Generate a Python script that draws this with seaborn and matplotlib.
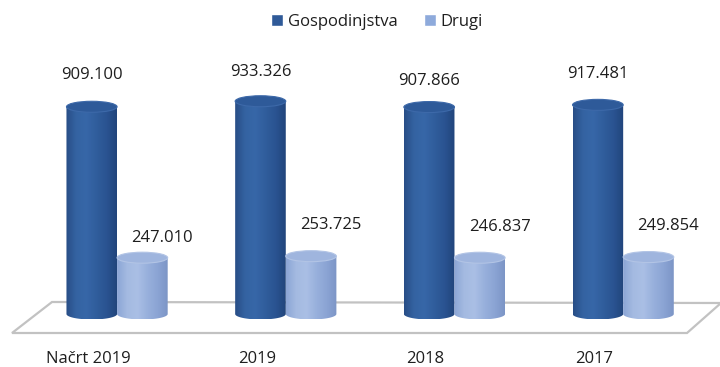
import numpy as np
import pandas as pd
import matplotlib
matplotlib.use("Agg")
import matplotlib.pyplot as plt
import matplotlib.transforms as mtransforms
from matplotlib.patches import Ellipse, Polygon
from matplotlib.colors import LinearSegmentedColormap
import seaborn as sns

# ---- data -------------------------------------------------------------
categories = ["Načrt 2019", "2019", "2018", "2017"]
series_names = ["Gospodinjstva", "Drugi"]
gospodinjstva = [909100, 933326, 907866, 917481]
drugi = [247010, 253725, 246837, 249854]

# ---- style ------------------------------------------------------------
sns.set_theme(style="white")
plt.rcParams["font.family"] = ["Open Sans", "DejaVu Sans"]
TEXT = "#1e1e1e"
DARK = "#2f5a98"
LIGHT = "#8eaadb"
FS = 12

body_maps = {
    DARK: LinearSegmentedColormap.from_list(
        "dark_body", ["#284d86", "#3463a2", "#3767a8", "#305d9c", "#2a5391", "#21457b"]),
    LIGHT: LinearSegmentedColormap.from_list(
        "light_body", ["#8ba5d5", "#a4bae1", "#aabfe5", "#98b0dc", "#8ba4d4", "#7c95c6"]),
}
cap_colors = {DARK: ("#2e5a99", "#3d69a9"), LIGHT: ("#9fb5de", "#b2c4e5")}

# label offsets in pixels above each cylinder top (dx, dy)
label_offsets = {
    DARK: [(0, 32), (0, 29), (0, 26), (0, 31)],
    LIGHT: [(20, 20), (20, 31), (20, 31), (20, 31)],
}

df = pd.DataFrame({
    "Kategorija": categories * 2,
    "Serija": [series_names[0]] * len(categories) + [series_names[1]] * len(categories),
    "Vrednost": gospodinjstva + drugi,
})

W, H, DPI = 720, 367, 100
fig = plt.figure(figsize=(W / DPI, H / DPI), dpi=DPI)
ax = fig.add_axes([0, 1 - 345 / H, 1, (345 - 40) / H])

sns.barplot(data=df, x="Kategorija", y="Vrednost", hue="Serija",
            palette=[DARK, LIGHT], saturation=1, width=0.6, gap=0,
            ax=ax, legend=True)

XLIM = (-0.694, 3.574)
YLIM = (-136000, 1202000)
ax.set_xlim(*XLIM)
ax.set_ylim(*YLIM)

# pixel -> data conversion for vertical sizes
def px_to_data_y(px):
    p0 = ax.transData.inverted().transform((0, 0))
    p1 = ax.transData.inverted().transform((0, px))
    return p1[1] - p0[1]

ell_h = px_to_data_y(11)

# ---- floor (drawn in figure pixels, y measured from the top) -----------
def fig_px(x, y):
    return (x / W, 1 - y / H)

floor_pts = [fig_px(12, 333), fig_px(687, 333), fig_px(721, 303), fig_px(52, 302)]
floor = Polygon(floor_pts, closed=True, transform=fig.transFigure,
                facecolor="white", edgecolor="#c2c2c2", linewidth=1.6,
                zorder=0.5, clip_on=False)
ax.add_patch(floor)

# ---- cylinders over the seaborn bars ------------------------------------
grad = np.linspace(0, 1, 256).reshape(1, -1)
series_colors = [DARK, LIGHT]
for container, color, values in zip(ax.containers, series_colors, [gospodinjstva, drugi]):
    for i, (bar, val) in enumerate(zip(container, values)):
        x, w, h = bar.get_x(), bar.get_width(), bar.get_height()
        cx = x + w / 2
        bar.set_visible(False)
        t = np.linspace(np.pi, 2 * np.pi, 60)
        bottom = np.column_stack([cx + w / 2 * np.cos(t), ell_h / 2 * np.sin(t)])
        outline = np.vstack([[x, h], bottom, [x + w, h]])
        body = Polygon(outline, closed=True, facecolor="none", edgecolor="none",
                       transform=ax.transData)
        ax.add_patch(body)
        im = ax.imshow(grad, cmap=body_maps[color], extent=[x, x + w, -ell_h / 2, h],
                       aspect="auto", zorder=2, interpolation="bilinear")
        im.set_clip_path(body)
        face, edge = cap_colors[color]
        ax.add_patch(Ellipse((cx, h), w, ell_h, facecolor=face, edgecolor=edge,
                             linewidth=0.8, zorder=3))

        label = f"{val:,}".replace(",", ".")
        ax.annotate(label, (cx, h), xytext=label_offsets[color][i],
                    textcoords="offset pixels", ha="center", va="center",
                    fontsize=FS, color=TEXT, zorder=5)

ax.set_xlim(*XLIM)
ax.set_ylim(*YLIM)

# ---- axes cosmetics ----------------------------------------------------
for s in ax.spines.values():
    s.set_visible(False)
ax.set_yticks([])
ax.set_xlabel("")
ax.set_ylabel("")
ax.tick_params(axis="x", length=0, pad=4, labelsize=FS, colors=TEXT)
shift = mtransforms.ScaledTranslation(-29 / DPI, 0, fig.dpi_scale_trans)
for lab in ax.get_xticklabels():
    lab.set_transform(lab.get_transform() + shift)

sns.move_legend(ax, "center", bbox_to_anchor=(377 / W, 1 - 22 / H),
                bbox_transform=fig.transFigure, ncol=2, frameon=False, title=None,
                handlelength=0.7, handleheight=0.7, handletextpad=0.3,
                columnspacing=1.6, fontsize=FS)
for txt in ax.get_legend().get_texts():
    txt.set_color(TEXT)

fig.savefig("out.png", dpi=DPI, facecolor="white")
